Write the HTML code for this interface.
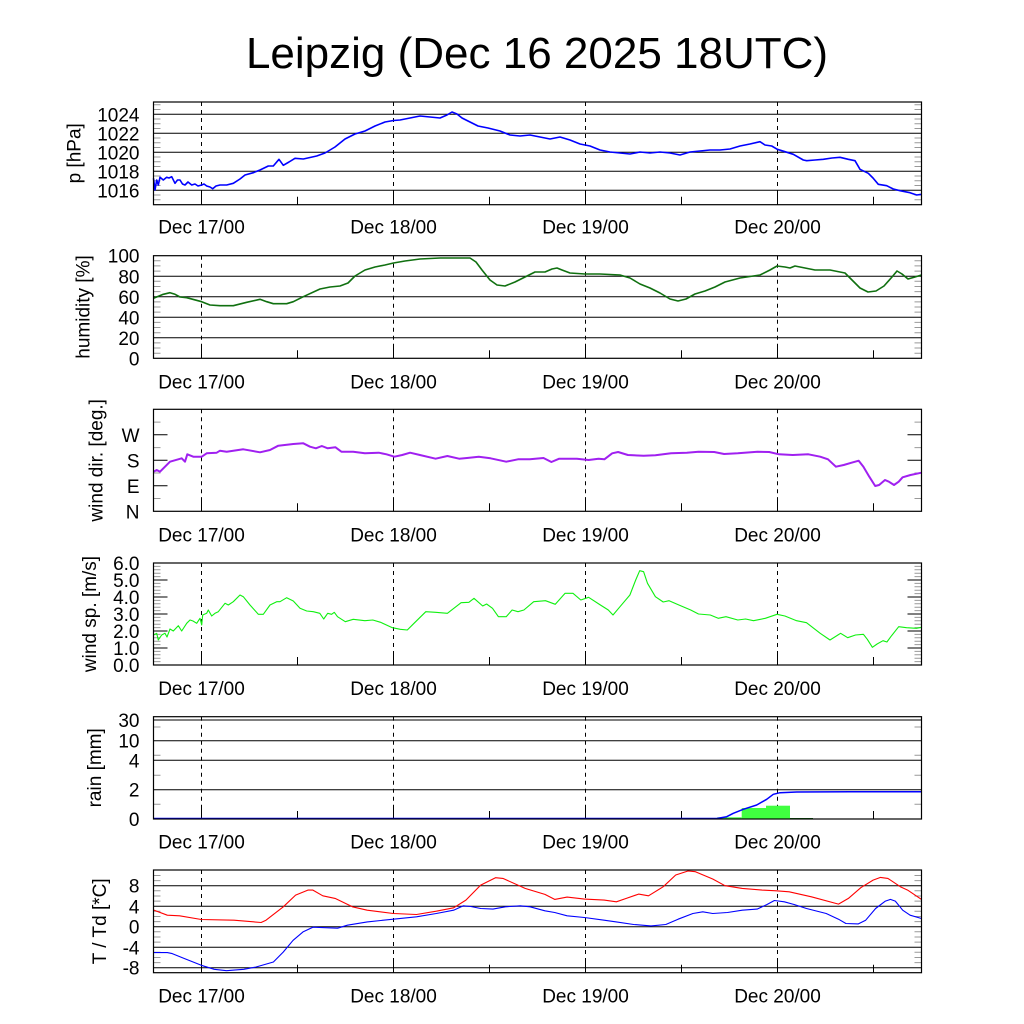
<!DOCTYPE html>
<html><head><meta charset="utf-8"><style>
html,body{margin:0;padding:0;background:#fff;}
svg{display:block;font-family:"Liberation Sans",Arial,sans-serif;}
</style></head><body>
<svg width="1024" height="1024" viewBox="0 0 1024 1024" xmlns="http://www.w3.org/2000/svg">
<rect width="1024" height="1024" fill="#fff"/>
<text x="537" y="68" font-size="44" text-anchor="middle" fill="#000">Leipzig (Dec 16 2025 18UTC)</text>

<!-- ============ GRIDLINES ============ -->
<g stroke="#000" stroke-width="1" fill="none">
<path d="M153.5 114.3H921.5M153.5 133.3H921.5M153.5 152.3H921.5M153.5 171.3H921.5M153.5 190.3H921.5"/>
<path d="M153.5 276.3H921.5M153.5 296.8H921.5M153.5 317.3H921.5M153.5 337.8H921.5"/>
<path d="M153.5 720H921.5M153.5 740.7H921.5M153.5 760.3H921.5M153.5 789.7H921.5"/>
<path d="M153.5 885.7H921.5M153.5 906.3H921.5M153.5 926.7H921.5M153.5 947.3H921.5M153.5 967.7H921.5"/>
</g>

<!-- ============ DASHED DAY LINES ============ -->
<g stroke="#000" stroke-width="1" stroke-dasharray="4,4" fill="none">
<path d="M201.5 102V204.7M393.5 102V204.7M585.5 102V204.7M777.5 102V204.7"/>
<path d="M201.5 255.7V358.3M393.5 255.7V358.3M585.5 255.7V358.3M777.5 255.7V358.3"/>
<path d="M201.5 409.3V511.3M393.5 409.3V511.3M585.5 409.3V511.3M777.5 409.3V511.3"/>
<path d="M201.5 563V665M393.5 563V665M585.5 563V665M777.5 563V665"/>
<path d="M201.5 716.7V819M393.5 716.7V819M585.5 716.7V819M777.5 716.7V819"/>
<path d="M201.5 870V972.7M393.5 870V972.7M585.5 870V972.7M777.5 870V972.7"/>
</g>

<!-- ============ MINOR TICKS (grey) ============ -->
<g stroke="#999" stroke-width="1" fill="none">
<!-- pressure -->
<path d="M153.5 195.05h7M153.5 199.8h7M153.5 185.55h7M153.5 180.8h7M153.5 176.05h7M153.5 166.55h7M153.5 161.8h7M153.5 157.05h7M153.5 147.55h7M153.5 142.8h7M153.5 138.05h7M153.5 128.55h7M153.5 123.8h7M153.5 119.05h7M153.5 109.55h7M153.5 104.8h7"/>
<path d="M921.5 195.05h-7M921.5 199.8h-7M921.5 185.55h-7M921.5 180.8h-7M921.5 176.05h-7M921.5 166.55h-7M921.5 161.8h-7M921.5 157.05h-7M921.5 147.55h-7M921.5 142.8h-7M921.5 138.05h-7M921.5 128.55h-7M921.5 123.8h-7M921.5 119.05h-7M921.5 109.55h-7M921.5 104.8h-7"/>
<!-- humidity -->
<path d="M153.5 353.2h7M153.5 348h7M153.5 342.9h7M153.5 332.7h7M153.5 327.5h7M153.5 322.4h7M153.5 312.1h7M153.5 307h7M153.5 301.9h7M153.5 291.6h7M153.5 286.5h7M153.5 281.3h7M153.5 271.1h7M153.5 265.9h7M153.5 260.8h7"/>
<path d="M921.5 353.2h-7M921.5 348h-7M921.5 342.9h-7M921.5 332.7h-7M921.5 327.5h-7M921.5 322.4h-7M921.5 312.1h-7M921.5 307h-7M921.5 301.9h-7M921.5 291.6h-7M921.5 286.5h-7M921.5 281.3h-7M921.5 271.1h-7M921.5 265.9h-7M921.5 260.8h-7"/>
<!-- wind dir -->
<path d="M153.5 498.55h7M153.5 473.05h7M153.5 447.6h7M153.5 422.1h7M921.5 498.55h-7M921.5 473.05h-7M921.5 447.6h-7M921.5 422.1h-7"/>
<!-- wind speed -->
<path d="M153.5 661.6h7M153.5 658.2h7M153.5 654.8h7M153.5 651.4h7M153.5 644.6h7M153.5 641.2h7M153.5 637.8h7M153.5 634.4h7M153.5 627.6h7M153.5 624.2h7M153.5 620.8h7M153.5 617.4h7M153.5 610.6h7M153.5 607.2h7M153.5 603.8h7M153.5 600.4h7M153.5 593.6h7M153.5 590.2h7M153.5 586.8h7M153.5 583.4h7M153.5 576.6h7M153.5 573.2h7M153.5 569.8h7M153.5 566.4h7"/>
<path d="M921.5 661.6h-7M921.5 658.2h-7M921.5 654.8h-7M921.5 651.4h-7M921.5 644.6h-7M921.5 641.2h-7M921.5 637.8h-7M921.5 634.4h-7M921.5 627.6h-7M921.5 624.2h-7M921.5 620.8h-7M921.5 617.4h-7M921.5 610.6h-7M921.5 607.2h-7M921.5 603.8h-7M921.5 600.4h-7M921.5 593.6h-7M921.5 590.2h-7M921.5 586.8h-7M921.5 583.4h-7M921.5 576.6h-7M921.5 573.2h-7M921.5 569.8h-7M921.5 566.4h-7"/>
<!-- rain -->
<path d="M153.5 727h7M153.5 755.3h7M153.5 775.3h7M153.5 804.3h7M921.5 727h-7M921.5 755.3h-7M921.5 775.3h-7M921.5 804.3h-7"/>
<!-- T -->
<path d="M153.5 962.6h7M153.5 957.5h7M153.5 952.3h7M153.5 942.1h7M153.5 937h7M153.5 931.8h7M153.5 921.6h7M153.5 916.5h7M153.5 911.3h7M153.5 901.1h7M153.5 896h7M153.5 890.8h7M153.5 880.6h7M153.5 875.5h7"/>
<path d="M921.5 962.6h-7M921.5 957.5h-7M921.5 952.3h-7M921.5 942.1h-7M921.5 937h-7M921.5 931.8h-7M921.5 921.6h-7M921.5 916.5h-7M921.5 911.3h-7M921.5 901.1h-7M921.5 896h-7M921.5 890.8h-7M921.5 880.6h-7M921.5 875.5h-7"/>
</g>

<!-- ============ MAJOR TICKS ============ -->
<g stroke="#000" stroke-width="1" fill="none">
<path d="M153.5 485.8h14M153.5 460.3h14M153.5 434.8h14M921.5 485.8h-14M921.5 460.3h-14M921.5 434.8h-14"/>
<path d="M153.5 648h14M153.5 631h14M153.5 614h14M153.5 597h14M153.5 580h14M921.5 648h-14M921.5 631h-14M921.5 614h-14M921.5 597h-14M921.5 580h-14"/>
<!-- x ticks -->
<path d="M201.5 204.7v-14M393.5 204.7v-14M585.5 204.7v-14M777.5 204.7v-14M297.5 204.7v-8M489.5 204.7v-8M681.5 204.7v-8M873.5 204.7v-8"/>
<path d="M201.5 358.3v-14M393.5 358.3v-14M585.5 358.3v-14M777.5 358.3v-14M297.5 358.3v-8M489.5 358.3v-8M681.5 358.3v-8M873.5 358.3v-8"/>
<path d="M201.5 511.3v-14M393.5 511.3v-14M585.5 511.3v-14M777.5 511.3v-14M297.5 511.3v-8M489.5 511.3v-8M681.5 511.3v-8M873.5 511.3v-8"/>
<path d="M201.5 665v-14M393.5 665v-14M585.5 665v-14M777.5 665v-14M297.5 665v-8M489.5 665v-8M681.5 665v-8M873.5 665v-8"/>
<path d="M201.5 819v-14M393.5 819v-14M585.5 819v-14M777.5 819v-14M297.5 819v-8M489.5 819v-8M681.5 819v-8M873.5 819v-8"/>
<path d="M201.5 972.7v-14M393.5 972.7v-14M585.5 972.7v-14M777.5 972.7v-14M297.5 972.7v-8M489.5 972.7v-8M681.5 972.7v-8M873.5 972.7v-8"/>
</g>

<!-- ============ DATA ============ -->
<!-- pressure -->
<polyline fill="none" stroke="#0000ff" stroke-width="1.6" stroke-linejoin="round" points="153.5,178.3 155,190 156.7,180 158.3,185 160,177.3 163.3,180 166.7,177.3 169,178 171.7,176.7 175,183.3 177.5,180 180,180 182.5,184 185,185 188,182 191.7,185 195,184 198,186 201.7,185 204,184 206.7,186 210,187 212.7,188.7 216,186 220,185 226.7,185 233.3,183.3 240,179 245,175 253.3,172.7 260,170 268.3,166 273.3,166 279,159.3 283.3,165.3 289,162 295,158.3 303.3,159 316.7,156 325,153 335,147 345,139 355,134 365,131 375,126 385,122 393.5,120.5 400,120 410,118 420,116 430,117 440,118 447,115 452,112 457,114 462,118 470,122 478,126 488,128 500,131 510,135 520,136 530,135 540,137 550,139 560,137 570,140 580,144 590,146 600,150 610,152 620,153 630,154 640,152 650,153 660,152 670,153 680,155 690,152 700,151 710,150 720,150 730,149 740,146 750,144 760,141.7 765,145 771.7,146 777.3,149.3 785,151.7 793.3,154.3 803.3,160 806.7,160.7 815,160 823.3,159.3 832,158 840,157.3 848.3,159.3 855,160.7 860,169.3 868.3,173.3 873,178 878.3,184.3 886.7,185.7 893.3,189 900,190.7 910,192.7 916.7,195 921.5,194.3"/>
<!-- humidity -->
<polyline fill="none" stroke="#107010" stroke-width="1.6" stroke-linejoin="round" points="153.5,298.3 163.3,294.3 170,292.7 175,294.3 180,297 186.7,297.7 201.7,301.7 210,305 220,305.7 233.3,305.7 246.7,302.3 260,299.3 266.7,301.7 273.3,303.7 286.7,303.7 293.3,301.7 303.3,296.7 320,289 330,287 340,286 348,283 355,276 365,270 375,267 385,265 393.5,263 405,261 420,259 440,258 460,258 470,258 476,262 482,270 490,280 497,285 505,286 515,282 525,277 535,272 545,272 552,269 557,268 562,270 570,273 585,274 600,274 620,275 630,278 640,284 650,288 660,293 670,299 678,301 686,299 695,294 705,291 715,287 725,282 740,278 760,275 770,270 777,266 785,267 790,268 795,266 805,268 815,270 830,270 845,273 852,280 860,288 868,292 876,291 884,286 892,277 897,271 902,274 908,279 915,277 921.5,275"/>
<!-- wind dir -->
<polyline fill="none" stroke="#a020f0" stroke-width="2" stroke-linejoin="round" points="153.5,471.7 156.7,470 160,471.7 165,466.7 170,461.7 178.3,459.3 181.7,458.3 185,461.7 187.3,454.3 193.3,456.7 201.7,456.7 206.7,453.3 216.7,452.7 220,450.7 226.7,451.7 243.3,449.3 260,452.3 270,450 278.3,445.7 293.3,444 303.3,443.3 310,446.7 315.9,448.3 321.8,446 327.7,448.3 335.5,447.3 341.4,451.7 353.2,451.7 364.9,453.3 378.7,452.7 386.5,454.3 394.4,456.7 402.2,455 410.1,452.7 419.9,455 435.6,458.7 447.4,456 459.1,458.7 467,458 478.8,456.7 490.5,458.3 506.2,461.7 518,459.3 529.8,459.3 543.5,458 551.4,462 559.2,458.7 576.9,458.7 588.6,460 598.5,458.7 604.4,459.3 612.2,453.3 618.1,452 627.9,455 643.6,455.7 655.4,455.3 671.1,453.3 686.8,452.7 698.5,451.7 714.2,452 724.1,454 737.8,453.3 757.5,451.7 769.2,452 779,454.3 792.7,455 808.4,454.3 820.2,456.7 828,459.3 835.9,466.7 843.7,465 851.6,462.7 858.7,460.7 863.4,466.7 869.3,476.7 875.2,486 879.1,485 885,480 888.9,481.7 894,485 898.7,481.7 902.6,477.3 910.5,475 921.5,472.7"/>
<!-- wind speed -->
<polyline fill="none" stroke="#10f010" stroke-width="1.1" stroke-linejoin="round" points="153.5,635 156.7,633.3 158.3,640 161.7,635 165,633.3 167,637 170,629 173.3,631 178.3,625.7 181.7,631 186.7,623.3 190,620 193,621 196.7,623.3 200,618.3 201.7,625 202.7,615 206.7,613.3 208.3,610 211.7,616 215,613.3 218.3,611.7 225,603.3 228.3,605 233.3,601.7 240,595 243.3,596.7 250,605 258.3,614.3 263.3,614.3 270,605 276.7,601.7 280,601.7 286.7,597.7 293.3,601 300,608.3 306.7,611 313.3,611.7 319.8,613.3 323.7,619 327.7,613.3 331.6,614.3 334.3,612.3 337.5,616.7 345.3,621.7 353.2,619.3 364.9,620.7 372.8,620 380.6,622.3 392.4,627.7 400.3,629.3 407.3,630 414,623.3 425.8,611.7 435.6,612.3 447.4,613.3 461.1,602.7 468.9,602.3 474,598.3 482.7,606 486.6,604 492.5,608.3 498.4,616.7 506.2,616.7 512.1,610 518,611.7 523.9,610 533.7,601.7 545.5,600.7 555.3,604.3 565.1,593.3 573,593.3 580.8,600 588.6,597.3 600.4,605 608.3,610 613,615 620,606.7 629.9,595 635.7,580 639.7,570.7 643.6,571.7 647.5,583.3 655.4,596.7 663.2,602 669.1,600.7 678.9,605 690.7,610 698.5,614 710.3,615 718.2,618.3 726,616.7 737.8,620 745.6,619 753.5,620.7 765.3,618.3 777,614.3 784.9,616 796.6,620.7 806.5,622.7 820.2,633.3 830,640 837.9,635 840.6,633.3 847.7,637.7 855.5,635 863.4,634.3 867.3,639.3 872.4,647.3 877.1,644 883,640.7 886.9,642 890.8,636.7 898.7,626.7 906.5,627.7 916.4,628.3 921.5,627.3"/>
<!-- rain bars -->
<g fill="#40ff40" stroke="none">
<rect x="717.3" y="817.3" width="24.4" height="1.7"/>
<rect x="741.7" y="808" width="24.3" height="11"/>
<rect x="766" y="805.7" width="24" height="13.3"/>
</g>
<path d="M790 818.5H813" stroke="#107010" stroke-width="1"/>
<!-- rain accumulated -->
<polyline fill="none" stroke="#0000ff" stroke-width="1.5" stroke-linejoin="round" points="153.5,818.5 716.7,818.5 726.7,816.7 733.3,813.3 743.3,809.3 756.7,805 766.7,799.3 773.3,794.3 780,792.7 796.7,792 850,791.8 921.5,791.7"/>
<!-- T -->
<polyline fill="none" stroke="#ff0000" stroke-width="1.1" stroke-linejoin="round" points="153.5,910 167.3,915.2 179.6,915.8 201.3,919.5 233.9,920.2 261.1,922.5 266,920.2 283.3,906.8 295.6,895.1 307.9,890.1 312.9,890.1 322.8,895.8 335.1,898.4 352.4,906.8 367.2,910.2 393.3,913.5 416.5,914.5 436.3,911.2 453.6,907.8 465.9,900.1 480.7,885.1 495.5,877.7 502.9,878.4 525.1,888.4 544.9,894.4 554.7,899.4 567.1,897.1 584.4,899.1 604.1,900.1 616.4,901.8 626.3,898.4 638.6,894.1 648.5,895.8 663.3,886.7 675.7,875 688,871 695.4,871.7 712.7,879 725,885.7 742.3,888.4 762,890.1 776.4,890.8 789.2,891.8 811.4,896.8 838.5,904.1 848.4,898.4 860.8,887.7 873.1,880.1 880.5,877.4 887.9,878.4 900.3,886.7 907.6,890.1 921.5,899.4"/>
<!-- Td -->
<polyline fill="none" stroke="#0000ff" stroke-width="1.1" stroke-linejoin="round" points="153.5,952.6 167.3,952.6 172.2,953.6 184.6,958.6 201.3,965.3 214.2,969.3 226.5,970.7 243.8,969.3 256.1,967 273.4,962 283.3,952 293.1,940.3 303,931.9 312.9,927.2 337.6,928.2 347.4,925.2 367.2,921.9 393.3,919.2 416.5,916.8 436.3,913.5 453.6,910.2 463.4,905.8 470.8,906.5 480.7,908.5 493,909.1 505.4,906.8 520.2,905.8 530.1,906.8 544.9,910.8 554.7,912.5 567.1,915.8 584.4,917.5 604.1,920.2 616.4,921.9 633.7,924.5 651,925.9 665.8,924.5 678.1,919.2 692.9,913.5 702.8,911.8 712.7,913.5 727.5,912.5 742.3,910.2 757.1,909.1 767,904.5 774.4,900.5 784.3,901.8 794.1,904.5 806.5,908.5 826.2,913.5 838.5,919.2 845.9,923.5 858.3,923.9 865.7,920.2 875.6,908.5 885.4,901.1 890.4,899.4 895.3,901.1 902.7,910.2 910.1,915.2 921.5,918.5"/>

<!-- ============ FRAMES ============ -->
<g fill="none" stroke="#000" stroke-width="1.2">
<rect x="153.5" y="102" width="768" height="102.7"/>
<rect x="153.5" y="255.7" width="768" height="102.6"/>
<rect x="153.5" y="409.3" width="768" height="102"/>
<rect x="153.5" y="563" width="768" height="102"/>
<rect x="153.5" y="716.7" width="768" height="102.3"/>
<rect x="153.5" y="870" width="768" height="102.7"/>
</g>

<!-- ============ TICK LABELS ============ -->
<g font-size="19" fill="#000" text-anchor="end">
<text x="139.5" y="121.3">1024</text><text x="139.5" y="140.3">1022</text><text x="139.5" y="159.3">1020</text><text x="139.5" y="178.3">1018</text><text x="139.5" y="197.3">1016</text>
<text x="139.5" y="262.7">100</text><text x="139.5" y="283.3">80</text><text x="139.5" y="303.8">60</text><text x="139.5" y="324.3">40</text><text x="139.5" y="344.8">20</text><text x="139.5" y="365.3">0</text>
<text x="139.5" y="441.8">W</text><text x="139.5" y="467.3">S</text><text x="139.5" y="492.8">E</text><text x="139.5" y="518.3">N</text>
<text x="139.5" y="570">6.0</text><text x="139.5" y="587">5.0</text><text x="139.5" y="604">4.0</text><text x="139.5" y="621">3.0</text><text x="139.5" y="638">2.0</text><text x="139.5" y="655">1.0</text><text x="139.5" y="672">0.0</text>
<text x="139.5" y="727">30</text><text x="139.5" y="747.7">10</text><text x="139.5" y="767.3">4</text><text x="139.5" y="796.7">2</text><text x="139.5" y="826">0</text>
<text x="139.5" y="892.7">8</text><text x="139.5" y="913.3">4</text><text x="139.5" y="933.7">0</text><text x="139.5" y="954.3">-4</text><text x="139.5" y="974.7">-8</text>
</g>

<!-- ============ X LABELS ============ -->
<g font-size="19" fill="#000" text-anchor="middle">
<text x="201.5" y="233.3">Dec 17/00</text><text x="393.5" y="233.3">Dec 18/00</text><text x="585.5" y="233.3">Dec 19/00</text><text x="777.5" y="233.3">Dec 20/00</text>
<text x="201.5" y="388.3">Dec 17/00</text><text x="393.5" y="388.3">Dec 18/00</text><text x="585.5" y="388.3">Dec 19/00</text><text x="777.5" y="388.3">Dec 20/00</text>
<text x="201.5" y="541.7">Dec 17/00</text><text x="393.5" y="541.7">Dec 18/00</text><text x="585.5" y="541.7">Dec 19/00</text><text x="777.5" y="541.7">Dec 20/00</text>
<text x="201.5" y="695">Dec 17/00</text><text x="393.5" y="695">Dec 18/00</text><text x="585.5" y="695">Dec 19/00</text><text x="777.5" y="695">Dec 20/00</text>
<text x="201.5" y="848.3">Dec 17/00</text><text x="393.5" y="848.3">Dec 18/00</text><text x="585.5" y="848.3">Dec 19/00</text><text x="777.5" y="848.3">Dec 20/00</text>
<text x="201.5" y="1002.7">Dec 17/00</text><text x="393.5" y="1002.7">Dec 18/00</text><text x="585.5" y="1002.7">Dec 19/00</text><text x="777.5" y="1002.7">Dec 20/00</text>
</g>

<!-- ============ Y LABELS ============ -->
<g font-size="19" fill="#000" text-anchor="middle">
<text transform="translate(80.5,153.3) rotate(-90)">p [hPa]</text>
<text transform="translate(89.5,307) rotate(-90)">humidity [%]</text>
<text transform="translate(102.5,460.3) rotate(-90)">wind dir. [deg.]</text>
<text transform="translate(96,614) rotate(-90)">wind sp. [m/s]</text>
<text transform="translate(101,767.8) rotate(-90)">rain [mm]</text>
<text transform="translate(106,921.3) rotate(-90)">T / Td [*C]</text>
</g>
</svg>
</body></html>
